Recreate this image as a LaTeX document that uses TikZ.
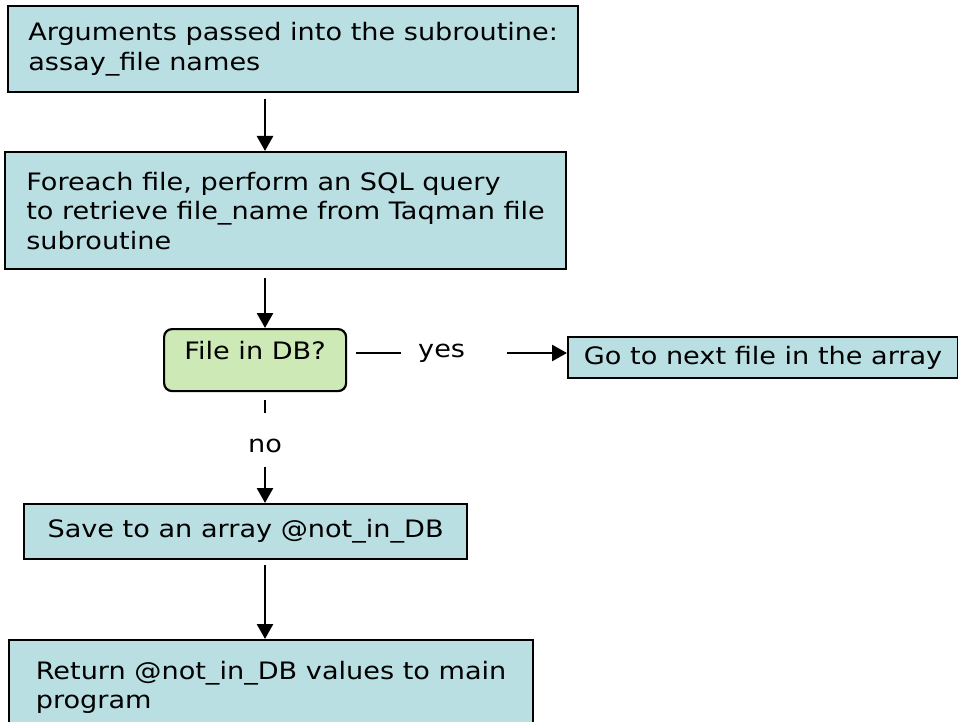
\documentclass[tikz,border=0pt]{standalone}
\usepackage{fontspec}
\usetikzlibrary{arrows.meta}
\newfontfamily\flowfont{DejaVu Sans}[FakeStretch=1.13]
\definecolor{procfill}{RGB}{185,223,227}
\definecolor{decfill}{RGB}{205,233,181}
\begin{document}
\begin{tikzpicture}[x=1pt,y=-1pt,
  txt/.style={font=\flowfont\fontsize{24}{29.5}\selectfont},
  proc/.style={txt, draw=black, line width=2.2pt, fill=procfill, align=left,
    inner sep=0pt, anchor=north west},
  decision/.style={txt, draw=black, line width=2.2pt, fill=decfill, align=center,
    inner sep=0pt, anchor=north west, rounded corners=8pt},
  flow/.style={line width=2.7pt, -{Triangle[width=16pt,length=15pt]}},
  plainline/.style={line width=2.7pt},
  lbl/.style={txt, inner sep=0pt}]
\useasboundingbox (0,0) rectangle (958,722);
\fill[white] (0,0) rectangle (958,722);
\coordinate (axis) at (265,0);

% process steps
\node[proc, minimum width=570pt, minimum height=86pt] (args) at (7,5)
  {Arguments passed into the subroutine:\\assay\_file names};
\node[proc, minimum width=561pt, minimum height=117pt] (query) at (4,151)
  {Foreach file, perform an SQL query\\to retrieve file\_name from Taqman file\\subroutine};
\node[decision, minimum width=182pt, text height=30pt, text depth=32pt] (dec) at (163,328)
  {File in DB?};
\node[proc, align=center, minimum width=390pt, minimum height=41pt] (next) at (567,336)
  {Go to next file in the array};
\node[proc, align=center, minimum width=443pt, minimum height=55pt] (save) at (23,503)
  {Save to an array @not\_in\_DB};
\node[proc, minimum width=524pt, minimum height=95pt] (ret) at (8,639)
  {Return @not\_in\_DB values to main\\program};

% branch labels
\node[lbl, anchor=west] (yes) at (418,353) {yes};
\node[lbl, anchor=base] (no) at (265,452) {no};

% connectors
\draw[flow, shorten <=6pt] (args.south -| axis) -- (query.north -| axis);
\draw[flow, shorten <=8pt] (query.south -| axis) -- (dec.north -| axis);
\draw[plainline, shorten <=9pt, shorten >=17pt] (yes.west -| dec.east) -- (yes.west);
\draw[flow, shorten <=42pt] (yes.east) -- (yes.east -| next.west);
\draw[plainline, shorten <=8pt, shorten >=25pt] (dec.south -| axis) -- (no.north);
\draw[flow, shorten <=14pt] (no.south) -- (save.north -| axis);
\draw[flow, shorten <=5pt] (save.south -| axis) -- (ret.north -| axis);
\end{tikzpicture}
\end{document}
